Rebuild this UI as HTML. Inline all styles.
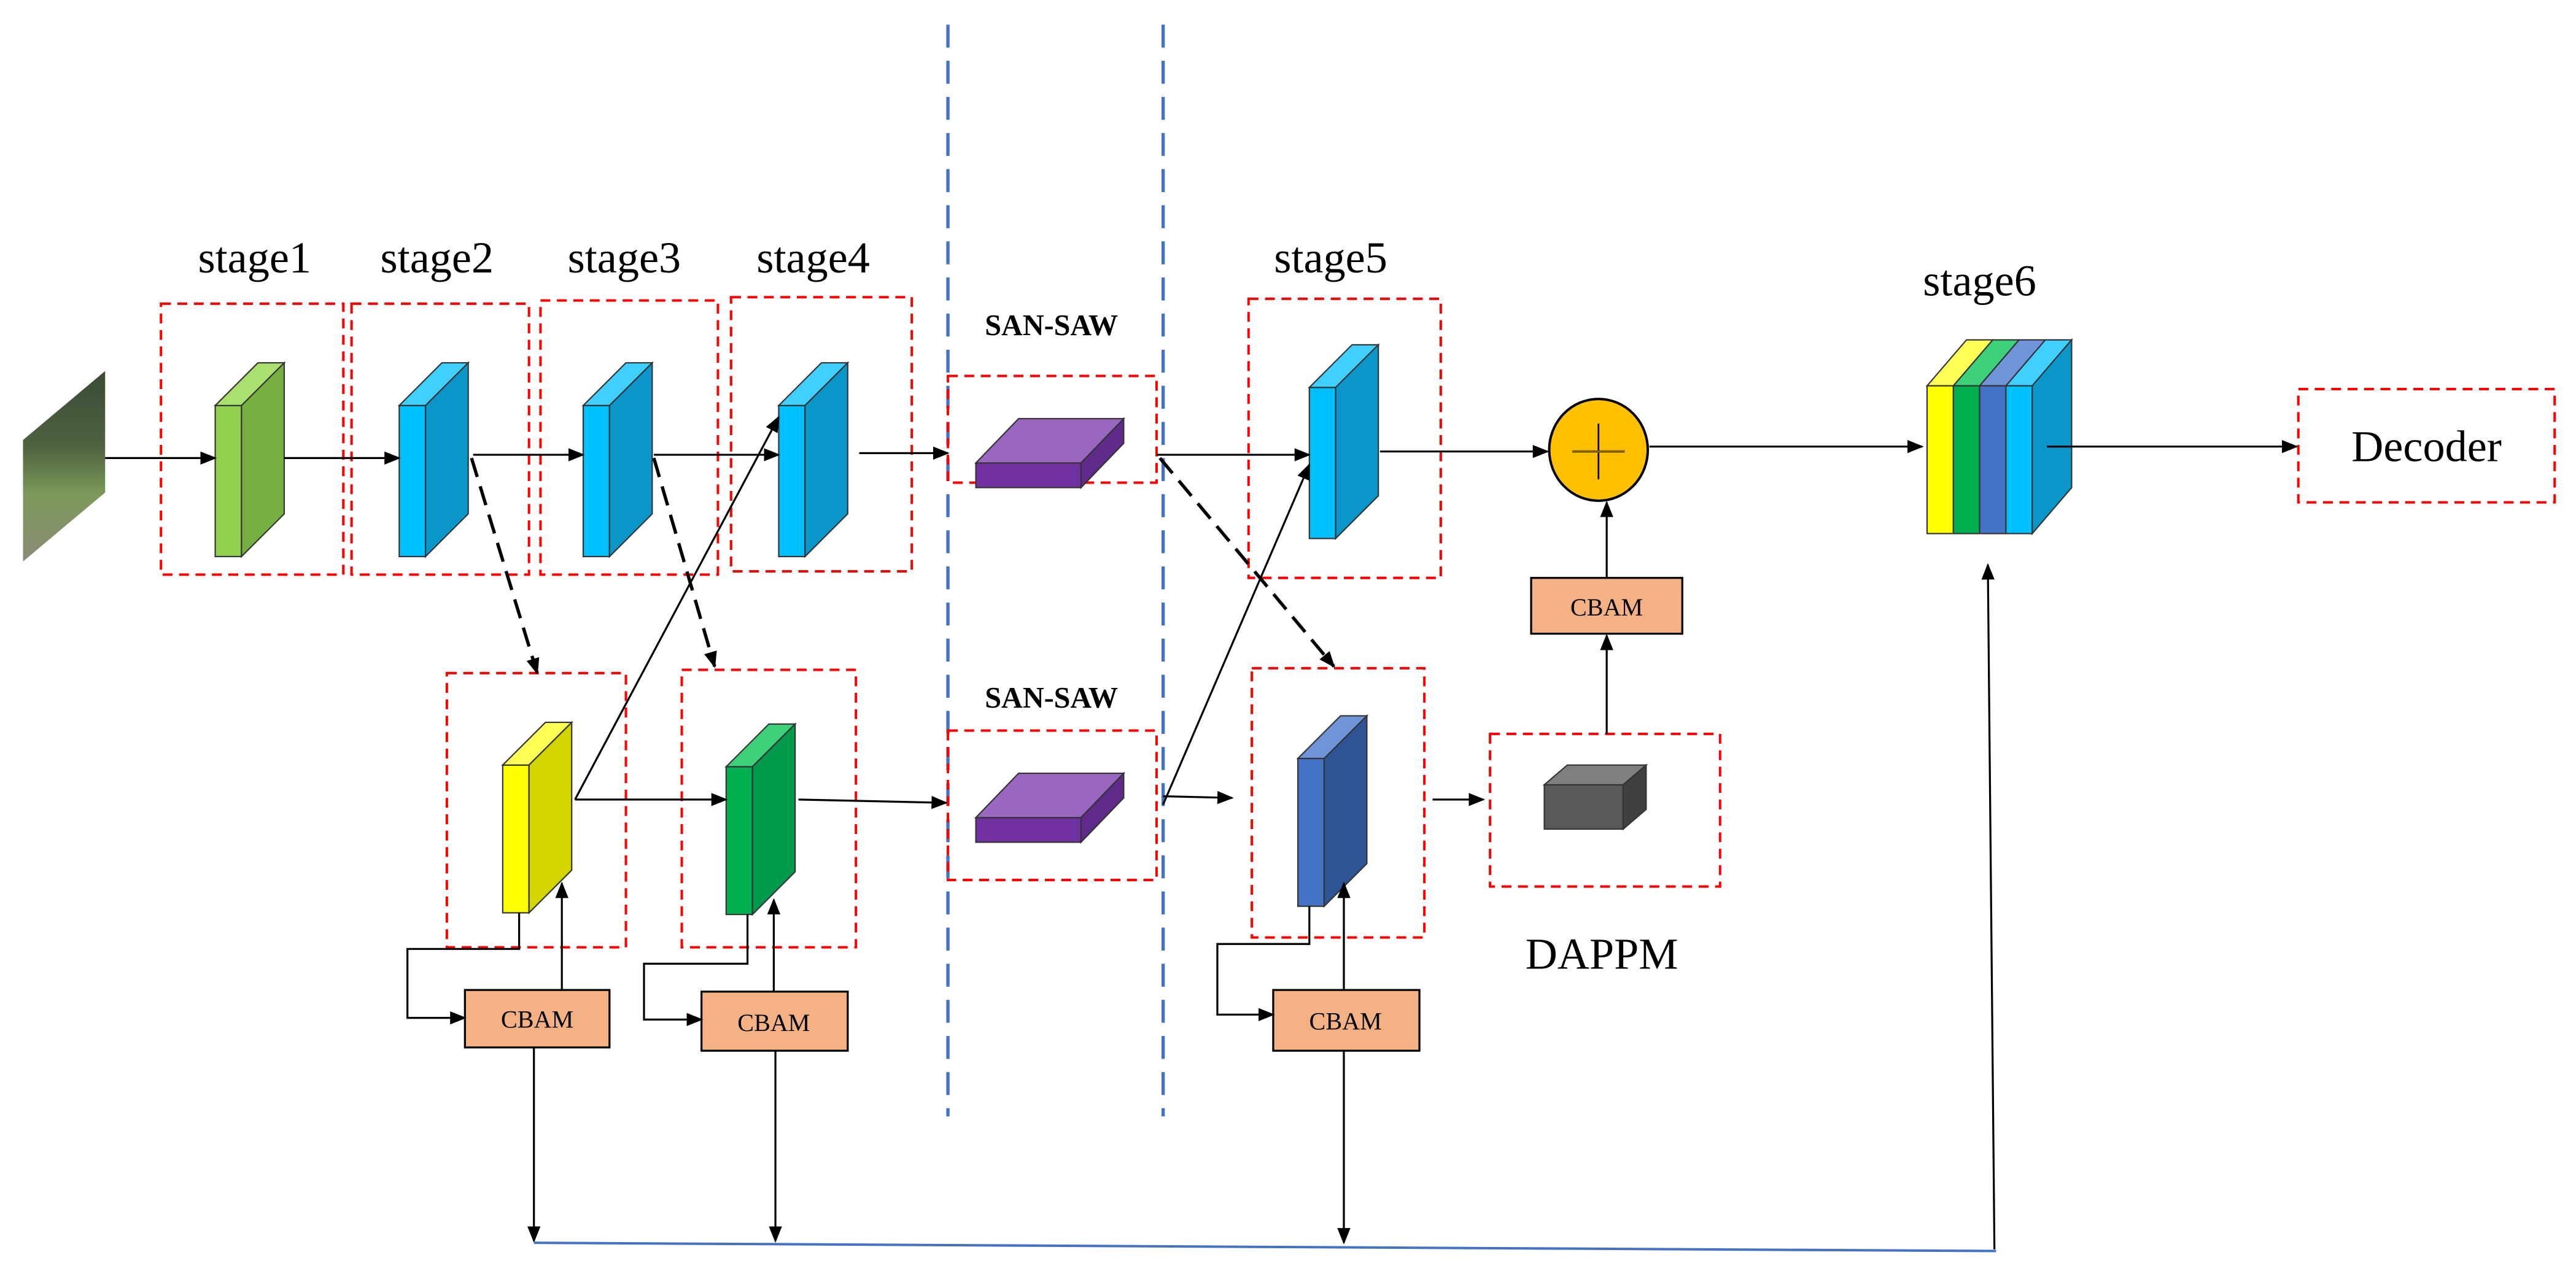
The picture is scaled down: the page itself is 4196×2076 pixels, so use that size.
<!DOCTYPE html>
<html><head><meta charset="utf-8"><style>html,body{margin:0;padding:0;background:#fff}svg{display:block}</style></head>
<body>
<svg width="4196" height="2076" viewBox="0 0 1568 776" preserveAspectRatio="none" xmlns="http://www.w3.org/2000/svg" font-family="Liberation Serif, serif">
<defs>
<marker id="a" markerUnits="userSpaceOnUse" markerWidth="10" markerHeight="10" refX="9" refY="5" orient="auto"><path d="M0,1 L10,5 L0,9 z" fill="#000"/></marker>
<linearGradient id="ph" x1="0" y1="0" x2="0" y2="1"><stop offset="0" stop-color="#3a4a35"/><stop offset="0.4" stop-color="#4e6340"/><stop offset="0.65" stop-color="#7d9a5a"/><stop offset="1" stop-color="#8a8a78"/></linearGradient>
</defs>
<rect width="1568" height="776" fill="#fff"/>
<!-- blue dashed separators -->
<g stroke="#4472c4" stroke-width="2" stroke-dasharray="14,8">
<line x1="577" y1="15" x2="577" y2="680"/><line x1="708" y1="15" x2="708" y2="680"/>
</g>
<!-- red dashed boxes -->
<g fill="none" stroke="#ff0000" stroke-width="1.5" stroke-dasharray="6,4">
<rect x="98" y="185" width="111" height="165"/>
<rect x="214" y="185" width="108" height="165"/>
<rect x="329" y="183" width="108" height="167"/>
<rect x="445" y="181" width="110" height="167"/>
<rect x="577" y="229" width="127" height="65"/>
<rect x="760" y="182" width="117" height="170"/>
<rect x="272" y="410" width="109" height="167"/>
<rect x="415" y="408" width="106" height="169"/>
<rect x="577" y="445" width="127" height="91"/>
<rect x="762" y="407" width="105" height="164"/>
<rect x="907" y="447" width="140" height="93"/>
<rect x="1399" y="237" width="156" height="69"/>
</g>
<!-- labels -->
<g font-size="27" fill="#000" text-anchor="middle">
<text x="155" y="166">stage1</text><text x="266" y="166">stage2</text><text x="380" y="166">stage3</text><text x="495" y="166">stage4</text>
<text x="810" y="166">stage5</text><text x="1205" y="180">stage6</text>
<text x="975" y="590">DAPPM</text><text x="1477" y="281">Decoder</text>
</g>
<g font-size="18" font-weight="bold" text-anchor="middle"><text x="640" y="204">SAN-SAW</text><text x="640" y="431">SAN-SAW</text></g>
<!-- photo -->
<polygon points="14,268 64,226 64,300 14,342" fill="url(#ph)"/>
<!-- blocks -->
<g stroke="#333" stroke-width="0.8">
<rect x="131" y="247" width="16" height="92" fill="#92d050"/><polygon points="131,247 157,221 173,221 147,247" fill="#a9e070"/><polygon points="147,247 173,221 173,313 147,339" fill="#76b041"/>
<rect x="243" y="247" width="16" height="92" fill="#00bfff"/><polygon points="243,247 269,221 285,221 259,247" fill="#40cfff"/><polygon points="259,247 285,221 285,313 259,339" fill="#0a96c8"/>
<rect x="355" y="247" width="16" height="92" fill="#00bfff"/><polygon points="355,247 381,221 397,221 371,247" fill="#40cfff"/><polygon points="371,247 397,221 397,313 371,339" fill="#0a96c8"/>
<rect x="474" y="247" width="16" height="92" fill="#00bfff"/><polygon points="474,247 500,221 516,221 490,247" fill="#40cfff"/><polygon points="490,247 516,221 516,313 490,339" fill="#0a96c8"/>
<rect x="797" y="236" width="16" height="92" fill="#00bfff"/><polygon points="797,236 823,210 839,210 813,236" fill="#40cfff"/><polygon points="813,236 839,210 839,302 813,328" fill="#0a96c8"/>
<rect x="306" y="466" width="16" height="90" fill="#ffff00"/><polygon points="306,466 332,440 348,440 322,466" fill="#ffff55"/><polygon points="322,466 348,440 348,530 322,556" fill="#d4d400"/>
<rect x="442" y="467" width="16" height="90" fill="#00b050"/><polygon points="442,467 468,441 484,441 458,467" fill="#3cd07a"/><polygon points="458,467 484,441 484,531 458,557" fill="#00994a"/>
<rect x="790" y="462" width="16" height="90" fill="#4472c4"/><polygon points="790,462 816,436 832,436 806,462" fill="#6f94d8"/><polygon points="806,462 832,436 832,526 806,552" fill="#2f5597"/>
<rect x="594" y="282" width="64" height="15" fill="#7030a0"/><polygon points="594,282 620,255 684,255 658,282" fill="#9966c0"/><polygon points="658,282 684,255 684,270 658,297" fill="#5f2a8a"/>
<rect x="594" y="498" width="64" height="15" fill="#7030a0"/><polygon points="594,498 620,471 684,471 658,498" fill="#9966c0"/><polygon points="658,498 684,471 684,486 658,513" fill="#5f2a8a"/>
<rect x="940" y="478" width="48" height="27" fill="#595959"/><polygon points="940,478 954,466 1002,466 988,478" fill="#7f7f7f"/><polygon points="988,478 1002,466 1002,493 988,505" fill="#404040"/>
<!-- stage6 -->
<polygon points="1173,235 1197,207 1213,207 1189,235" fill="#ffff55"/>
<polygon points="1189,235 1213,207 1229,207 1205,235" fill="#3cd07a"/>
<polygon points="1205,235 1229,207 1245,207 1221,235" fill="#6f94d8"/>
<polygon points="1221,235 1245,207 1261,207 1237,235" fill="#40cfff"/>
<polygon points="1237,235 1261,207 1261,297 1237,325" fill="#0a96c8"/>
<rect x="1173" y="235" width="16" height="90" fill="#ffff00"/>
<rect x="1189" y="235" width="16" height="90" fill="#00b050"/>
<rect x="1205" y="235" width="16" height="90" fill="#4472c4"/>
<rect x="1221" y="235" width="16" height="90" fill="#00bfff"/>
</g>
<!-- circle plus -->
<ellipse cx="973" cy="274" rx="30" ry="31" fill="#ffc000" stroke="#000" stroke-width="1.5"/>
<line x1="973" y1="258" x2="973" y2="292" stroke="#000" stroke-width="1"/><line x1="957" y1="275" x2="989" y2="275" stroke="#7f6000" stroke-width="1.5"/>
<!-- CBAM boxes -->
<g fill="#f4b183" stroke="#000" stroke-width="1.2">
<rect x="932" y="352" width="92" height="34"/><rect x="283" y="603" width="88" height="35"/><rect x="427" y="604" width="89" height="36"/><rect x="775" y="603" width="89" height="37"/>
</g>
<g font-size="15" text-anchor="middle"><text x="978" y="375">CBAM</text><text x="327" y="626">CBAM</text><text x="471" y="628">CBAM</text><text x="819" y="627">CBAM</text></g>
<!-- arrows -->
<g stroke="#000" stroke-width="1.2" fill="none" marker-end="url(#a)">
<line x1="64" y1="279" x2="131" y2="279"/>
<line x1="173" y1="279" x2="243" y2="279"/>
<line x1="288" y1="277" x2="355" y2="277"/>
<line x1="398" y1="277" x2="474" y2="277"/>
<line x1="523" y1="276" x2="577" y2="276"/>
<line x1="704" y1="277" x2="797" y2="277"/>
<line x1="840" y1="275" x2="942" y2="275"/>
<line x1="1004" y1="272" x2="1170" y2="272"/>
<line x1="1246" y1="272" x2="1398" y2="272"/>
<line x1="978" y1="352" x2="978" y2="306"/>
<line x1="978" y1="447" x2="978" y2="387"/>
<line x1="350" y1="487" x2="474" y2="254"/>
<line x1="708" y1="490" x2="797" y2="283"/>
<line x1="350" y1="487" x2="442" y2="487"/>
<line x1="486" y1="487" x2="576" y2="489"/>
<line x1="708" y1="485" x2="750" y2="486"/>
<line x1="872" y1="487" x2="903" y2="487"/>
<polyline points="316,556 316,578 248,578 248,620 283,620"/>
<line x1="342" y1="603" x2="342" y2="538"/>
<polyline points="455,557 455,587 392,587 392,621 427,621"/>
<line x1="471" y1="604" x2="471" y2="548"/>
<polyline points="797,552 797,575 741,575 741,618 775,618"/>
<line x1="818" y1="603" x2="818" y2="538"/>
<line x1="325" y1="638" x2="325" y2="756"/>
<line x1="472" y1="640" x2="472" y2="756"/>
<line x1="818" y1="640" x2="818" y2="757"/>
<line x1="1214" y1="761" x2="1210" y2="344"/>
</g>
<g stroke="#000" stroke-width="2" fill="none" stroke-dasharray="12,6" marker-end="url(#a)">
<line x1="287" y1="279" x2="327" y2="410"/>
<line x1="398" y1="279" x2="435" y2="406"/>
<line x1="706" y1="279" x2="812" y2="406"/>
</g>
<line x1="325" y1="757" x2="1215" y2="762" stroke="#4472c4" stroke-width="1.5"/>
</svg>
</body></html>
